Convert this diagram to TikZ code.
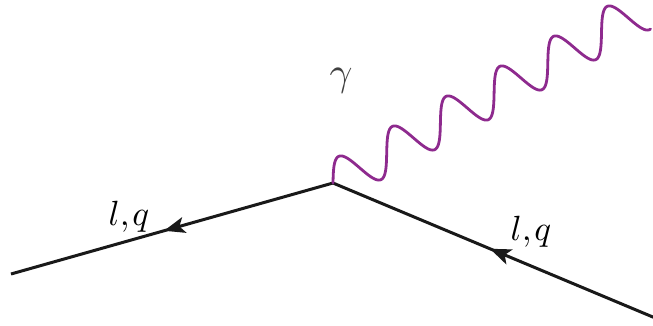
\documentclass[tikz,border=0pt]{standalone}
\usetikzlibrary{arrows.meta,decorations.markings}
\definecolor{photon}{RGB}{142,42,142}
\tikzset{
  fermion/.style={line width=3pt, black!90},
  arrowat/.style={postaction={decorate}, decoration={markings,
    mark=at position #1 with {\arrow{Stealth[length=21pt,width=16pt,inset=5pt]}}}},
  photonline/.style={line width=2.8pt, photon, line join=round, line cap=round},
  lab/.style={inner sep=0pt},
  glab/.style={inner sep=0pt, text=black!75},
}
\newcommand{\biglab}[2]{\scalebox{#1}{$#2$}}
\begin{document}
\begin{tikzpicture}[x=1pt,y=-1pt]
\useasboundingbox (0,0) rectangle (653,325);
\clip (0,0) rectangle (653,325);
\coordinate (V) at (333,183);
\coordinate (L) at (11,274);
\coordinate (R) at (660,320);
\draw[fermion, arrowat=0.525] (V) -- (L);
\draw[fermion, arrowat=0.52] (R) -- (V);
\draw[photonline] plot[domain=0:2075, samples=500, smooth, variable=\t]
  ({333 + \t/360*53.7 - 8*sin(\t)}, {183 - \t/360*30 - 19*sin(\t)});
\node[glab] (g) at (341,81) {\biglab{4}{\gamma}};
\node[lab] (lq1) at (129,217) {\biglab{3.5}{l{,}\mkern1.5mu q}};
\node[lab] (lq2) at (531,232) {\biglab{3.5}{l{,}\mkern1.5mu q}};
\end{tikzpicture}
\end{document}
